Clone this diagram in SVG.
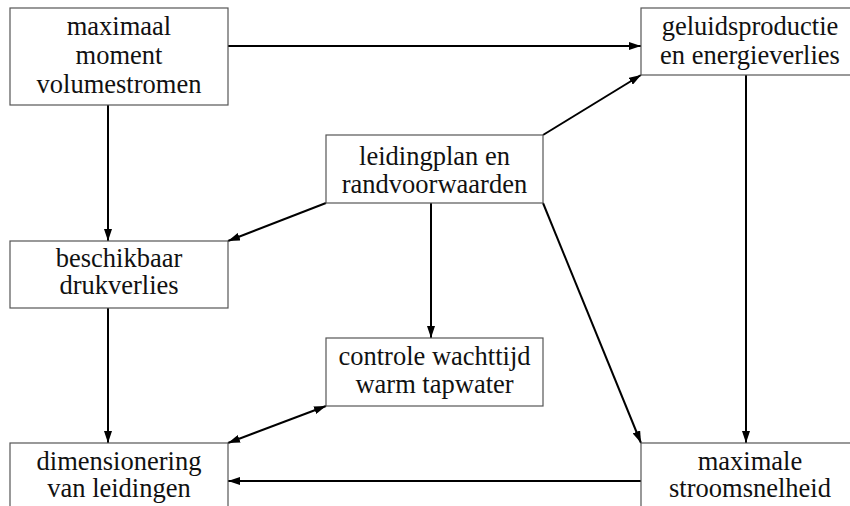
<svg xmlns="http://www.w3.org/2000/svg" width="850" height="506" viewBox="0 0 850 506">
<defs>
<style>
.box{fill:#fff;stroke:#555;stroke-width:1.2}
.t{font-family:'Liberation Serif',serif;font-size:26.5px;fill:#111;text-anchor:middle}
.c{stroke:#000;stroke-width:2;fill:none;marker-end:url(#ah)}
</style>
<marker id="ah" viewBox="0 0 12 8" refX="12" refY="4" markerWidth="12" markerHeight="8" markerUnits="userSpaceOnUse" orient="auto-start-reverse">
<path d="M0,0 L12,4 L0,8 Z" fill="#000"/>
</marker>
</defs>
<rect width="850" height="506" fill="#fff"/>
<g id="connectors">
<line class="c" x1="228" y1="46" x2="641" y2="46"/>
<line class="c" x1="108" y1="105" x2="108" y2="241"/>
<line class="c" x1="543" y1="135" x2="641" y2="75"/>
<line class="c" x1="326" y1="203" x2="228" y2="241"/>
<line class="c" x1="431" y1="203" x2="431" y2="338"/>
<line class="c" x1="543" y1="203" x2="641" y2="443"/>
<line class="c" x1="746" y1="75" x2="746" y2="443"/>
<line class="c" x1="108" y1="308" x2="108" y2="443"/>
<line class="c" x1="326" y1="406" x2="228" y2="443" marker-start="url(#ah)"/>
<line class="c" x1="641" y1="481" x2="228" y2="481"/>
</g>
<g id="n1"><rect class="box" x="10" y="8" width="218" height="97"/>
<text class="t" x="119" y="35">maximaal</text><text class="t" x="119" y="64">moment</text><text class="t" x="119" y="93">volumestromen</text></g>
<g id="n2"><rect class="box" x="641" y="8" width="218" height="67"/>
<text class="t" x="750" y="35">geluidsproductie</text><text class="t" x="750" y="64">en energieverlies</text></g>
<g id="n3"><rect class="box" x="326" y="135" width="217" height="68"/>
<text class="t" x="434.5" y="165">leidingplan en</text><text class="t" x="434.5" y="193">randvoorwaarden</text></g>
<g id="n4"><rect class="box" x="10" y="241" width="218" height="67"/>
<text class="t" x="119" y="267">beschikbaar</text><text class="t" x="119" y="294">drukverlies</text></g>
<g id="n5"><rect class="box" x="326" y="338" width="217" height="68"/>
<text class="t" x="434.5" y="365">controle wachttijd</text><text class="t" x="434.5" y="393">warm tapwater</text></g>
<g id="n6"><rect class="box" x="10" y="443" width="218" height="80"/>
<text class="t" x="119" y="470">dimensionering</text><text class="t" x="119" y="497">van leidingen</text></g>
<g id="n7"><rect class="box" x="641" y="443" width="218" height="80"/>
<text class="t" x="750" y="470">maximale</text><text class="t" x="750" y="497">stroomsnelheid</text></g>
</svg>
